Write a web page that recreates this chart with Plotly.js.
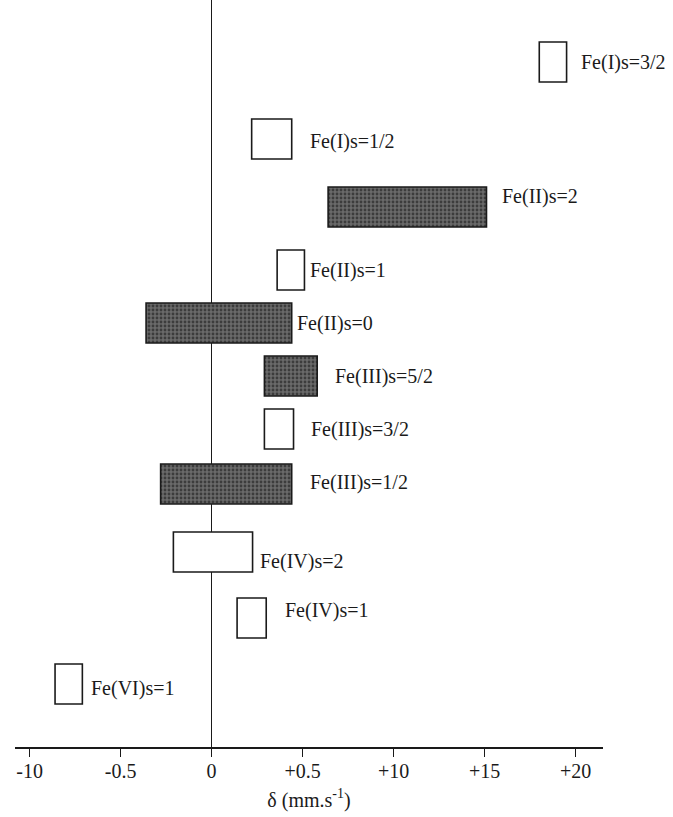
<!DOCTYPE html>
<html>
<head>
<meta charset="utf-8">
<script src="https://cdn.plot.ly/plotly-3.0.1.min.js"></script>
<style>
  body { margin: 0; background: #fff; }
  #chart { width: 673px; height: 817px; }
</style>
</head>
<body>
<div id="chart"></div>
<script>
// Isomer shift ranges (mm/s) for iron oxidation / spin states
const stateLabels = ['Fe(I)s=3/2', 'Fe(I)s=1/2', 'Fe(II)s=2', 'Fe(II)s=1', 'Fe(II)s=0',
                     'Fe(III)s=5/2', 'Fe(III)s=3/2', 'Fe(III)s=1/2', 'Fe(IV)s=2', 'Fe(IV)s=1', 'Fe(VI)s=1'];
const shiftLow  = [1.80, 0.22, 0.64, 0.36, -0.36, 0.29, 0.29, -0.28, -0.21, 0.14, -0.86];
const shiftHigh = [1.95, 0.44, 1.51, 0.51, 0.44, 0.58, 0.45, 0.44, 0.225, 0.30, -0.71];
const shaded    = [false, false, true, false, true, true, false, true, false, false, false];
// vertical row level of each state (rows are not evenly spaced in the figure)
const rowLevel  = [685, 608, 540, 477, 424, 371, 318, 263, 195, 129, 63];

// x axis tick labels as printed in the original
const tickVals  = [-1, -0.5, 0, 0.5, 1, 1.5, 2];
const tickText  = ['-10', '-0.5', '0', '+0.5', '+10', '+15', '+20'];

// label placement next to each box, in px (gap to the right, shift up)
const labelGap   = [12, 16, 14, 4, 3, 16, 15, 16, 5, 17, 7];
const labelShift = [0, -2, 11, 0, 0, 0, 0, 2, -9, 8, -4];

const serif = 'Liberation Serif, Times New Roman, serif';
const ink = '#1a1a1a';

function pick(flag) {
    const out = {x: [], base: [], y: []};
    for (let i = 0; i < stateLabels.length; i++) {
        if (shaded[i] !== flag) continue;
        out.x.push(shiftHigh[i] - shiftLow[i]);
        out.base.push(shiftLow[i]);
        out.y.push(rowLevel[i]);
    }
    return out;
}

const open = pick(false);
const dark = pick(true);

const openBoxes = {
    type: 'bar',
    orientation: 'h',
    x: open.x,
    base: open.base,
    y: open.y,
    width: 40,
    marker: {
        color: '#ffffff',
        line: {color: ink, width: 1.6}
    },
    hoverinfo: 'skip'
};

const darkBoxes = {
    type: 'bar',
    orientation: 'h',
    x: dark.x,
    base: dark.base,
    y: dark.y,
    width: 40,
    marker: {
        color: '#5e5e5e',
        pattern: {shape: '.', fgcolor: '#3c3c3c', bgcolor: '#6a6a6a', size: 4, solidity: 0.4},
        line: {color: ink, width: 1.6}
    },
    hoverinfo: 'skip'
};

const notes = stateLabels.map((t, i) => ({
    x: shiftHigh[i],
    y: rowLevel[i],
    text: t,
    xanchor: 'left',
    yanchor: 'middle',
    xshift: labelGap[i],
    yshift: labelShift[i],
    showarrow: false,
    font: {family: serif, size: 20, color: ink}
}));

const layout = {
    width: 673,
    height: 817,
    margin: {l: 15, r: 70, t: 0, b: 70},
    paper_bgcolor: '#ffffff',
    plot_bgcolor: '#ffffff',
    showlegend: false,
    barmode: 'overlay',
    xaxis: {
        range: [-1.08, 2.15],
        tickvals: tickVals,
        ticktext: tickText,
        ticks: 'outside',
        ticklen: 8,
        tickwidth: 1.3,
        tickcolor: ink,
        ticklabelstandoff: -3,
        showgrid: false,
        showline: true,
        linecolor: ink,
        linewidth: 1.6,
        zeroline: true,
        zerolinecolor: ink,
        zerolinewidth: 1.6,
        tickfont: {family: serif, size: 20, color: ink},
        title: {
            text: 'δ (mm.s<sup>-1</sup>)',
            font: {family: serif, size: 20, color: ink},
            standoff: 12
        },
        fixedrange: true
    },
    yaxis: {
        range: [0, 747],
        visible: false,
        fixedrange: true
    },
    annotations: notes
};

Plotly.newPlot('chart', [openBoxes, darkBoxes], layout, {displayModeBar: false, staticPlot: true});
</script>
</body>
</html>
